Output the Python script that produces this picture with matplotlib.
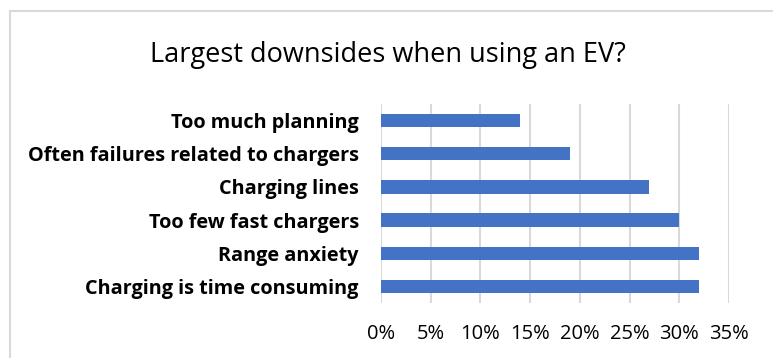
import matplotlib.pyplot as plt
from matplotlib.patches import Rectangle
from matplotlib.ticker import PercentFormatter

# data (bottom to top as drawn)
categories = ['Charging is time consuming', 'Range anxiety', 'Too few fast chargers',
              'Charging lines', 'Often failures related to chargers', 'Too much planning']
shares = [32, 32, 30, 27, 19, 14]
x_ticks = [0, 5, 10, 15, 20, 25, 30, 35]

plt.rcParams['font.family'] = ['Open Sans', 'DejaVu Sans']

fig = plt.figure(figsize=(7.73, 3.58), dpi=100)
ax = fig.add_axes([381 / 773, 55 / 358, 348 / 773, 199 / 358])

# chart border (cropped at right/bottom in the source)
fig.patches.append(Rectangle((10 / 773, -0.1), 1.2, 1 - 11 / 358 + 0.1,
                             transform=fig.transFigure, fill=False,
                             edgecolor='#D9D9D9', linewidth=1.5))

ax.barh(range(len(categories)), shares, height=0.4, color='#4472C4', zorder=3)
ax.set_yticks(range(len(categories)))
ax.set_yticklabels(categories, fontsize=14.3, fontweight='bold')
ax.set_ylim(-0.5, len(categories) - 0.5)

ax.set_xlim(0, 35)
ax.set_xticks(x_ticks)
ax.xaxis.set_major_formatter(PercentFormatter(decimals=0))
ax.tick_params(axis='x', labelsize=14.5, length=0, pad=15)
ax.tick_params(axis='y', length=0, pad=16)
ax.grid(axis='x', color='#D9D9D9', linewidth=1.5, zorder=0)
for s in ax.spines.values():
    s.set_visible(False)

fig.text(388 / 773, 1 - 55 / 358, 'Largest downsides when using an EV?',
         ha='center', va='center', fontsize=19.5)

fig.savefig('out.png', dpi=100)
